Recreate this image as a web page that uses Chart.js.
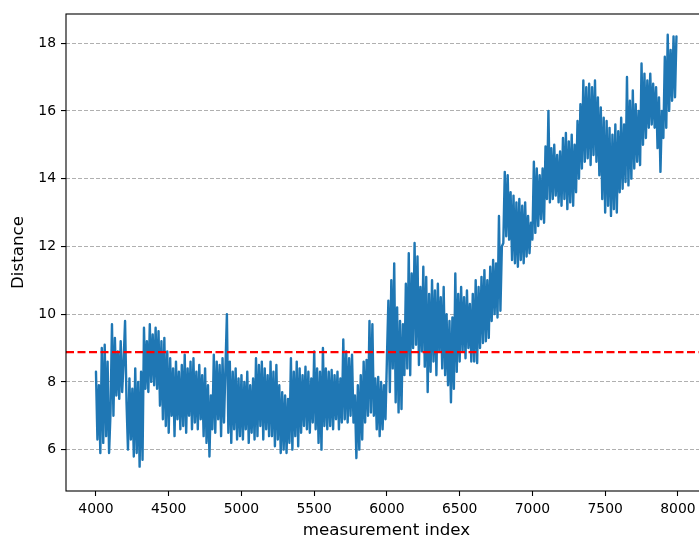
<!DOCTYPE html>
<html lang="en">
<head>
    <meta charset="UTF-8">
    <title>Distance per measurement</title>
    <script src="https://cdn.jsdelivr.net/npm/chart.js"></script>
    <style>
        html, body { margin: 0; padding: 0; background: #fff; overflow: hidden; }
        #wrap { width: 708px; height: 539px; }
    </style>
</head>
<body>
    <div id="wrap">
        <canvas id="distance-chart" width="708" height="539"></canvas>
    </div>

    <script>
        // measurement index of the first sample and spacing between samples
        const startIndex = 4000;
        const indexStep = 10;

        // distance readings, one every indexStep measurements (one row = 100 measurements)
        const distances = [
            8.3, 6.3, 7.9, 5.9, 9.0, 6.2, 9.1, 6.4, 8.6, 5.9,
            7.1, 9.7, 7.0, 9.3, 7.6, 8.9, 7.5, 9.2, 7.7, 8.6,
            9.8, 7.4, 6.0, 8.1, 6.3, 7.8, 5.8, 8.4, 5.9, 8.0,
            5.5, 8.3, 5.7, 9.6, 7.8, 9.2, 7.7, 9.7, 8.0, 9.4,
            7.9, 9.6, 7.8, 9.5, 7.3, 9.2, 6.9, 9.3, 6.7, 8.9,
            6.5, 8.7, 7.0, 8.4, 6.4, 8.6, 6.9, 8.3, 6.6, 8.5,
            6.7, 8.8, 6.5, 8.4, 7.0, 8.6, 6.6, 8.7, 6.8, 8.3,
            6.6, 8.5, 6.9, 8.2, 6.4, 8.4, 6.2, 7.9, 5.8, 7.6,
            6.6, 8.8, 6.5, 8.6, 6.9, 8.5, 6.4, 8.7, 6.8, 8.4,
            10.0, 6.5, 8.6, 6.2, 8.3, 6.6, 8.4, 6.3, 8.1, 6.4,
            8.2, 6.3, 8.0, 6.6, 8.3, 6.2, 7.9, 6.5, 8.1, 6.3,
            8.7, 6.4, 8.5, 6.7, 8.6, 6.3, 8.4, 6.6, 8.2, 6.4,
            8.6, 6.4, 8.3, 6.1, 8.5, 6.3, 7.9, 5.9, 7.7, 6.0,
            7.6, 5.9, 7.5, 6.2, 8.7, 6.0, 8.3, 6.4, 8.6, 6.1,
            8.4, 6.5, 8.2, 6.7, 8.45, 6.6, 8.3, 6.5, 8.1, 6.8,
            8.9, 6.6, 8.4, 6.2, 8.3, 6.0, 9.0, 6.7, 8.4, 6.6,
            8.3, 6.7, 8.35, 6.6, 8.2, 6.9, 8.3, 6.6, 8.1, 6.8,
            9.25, 6.9, 8.9, 6.8, 8.7, 7.0, 8.8, 6.8, 7.6, 5.75,
            7.9, 6.0, 8.2, 6.3, 8.6, 6.8, 8.65, 7.0, 9.8, 7.1,
            9.7, 7.0, 8.1, 6.6, 8.15, 6.4, 8.0, 6.6, 7.9, 6.9,
            8.7, 10.4, 7.7, 11.0, 8.4, 11.5, 7.4, 10.2, 7.1, 9.8,
            7.2, 9.7, 8.2, 10.9, 8.4, 11.8, 8.2, 11.2, 9.0, 12.1,
            9.1, 11.7, 8.5, 10.8, 8.9, 11.4, 8.45, 11.1, 7.7, 10.6,
            8.3, 11.0, 8.6, 10.7, 8.2, 10.9, 8.9, 10.5, 8.4, 10.8,
            8.2, 10.0, 7.9, 9.8, 7.4, 9.9, 7.8, 11.2, 8.3, 10.6,
            8.6, 10.8, 8.9, 10.5, 8.7, 10.7, 9.0, 10.3, 8.6, 10.6,
            8.6, 11.0, 8.56, 10.8, 9.0, 11.1, 9.15, 11.3, 9.2, 11.0,
            9.3, 11.4, 9.8, 11.6, 10.0, 11.5, 9.9, 12.9, 10.1, 12.0,
            12.1, 14.2, 12.3, 14.1, 12.2, 13.6, 11.6, 13.5, 11.5, 13.3,
            11.4, 13.4, 11.6, 13.2, 11.5, 13.3, 11.7, 12.9, 11.8, 12.7,
            12.2, 14.5, 12.4, 14.3, 12.6, 14.1, 12.8, 14.3, 12.7, 14.95,
            13.4, 16.0, 13.3, 14.9, 13.4, 15.0, 13.5, 14.7, 13.3, 14.8,
            13.2, 15.2, 13.4, 15.35, 13.1, 15.1, 13.3, 15.3, 13.2, 15.0,
            13.6, 15.7, 14.0, 16.2, 14.3, 16.9, 14.5, 16.7, 14.6, 16.8,
            14.4, 16.7, 14.7, 16.9, 14.5, 16.4, 14.1, 16.1, 13.4, 15.8,
            13.0, 15.7, 13.2, 15.5, 12.9, 15.3, 13.1, 15.6, 13.0, 15.4,
            13.6, 15.8, 13.7, 15.6, 13.9, 17.0, 13.8, 16.3, 14.0, 16.6,
            14.3, 16.2, 14.5, 16.0, 14.4, 17.4, 15.0, 17.1, 15.2, 16.9,
            15.5, 17.1, 15.6, 16.8, 15.5, 16.7, 14.9, 16.4, 14.2, 16.0,
            15.2, 17.6, 15.5, 18.25, 16.0, 17.8, 16.3, 18.2, 16.4, 18.2
        ];

        // reference level drawn as a dashed red line
        const threshold = 8.88;

        const xTicks = [4000, 4500, 5000, 5500, 6000, 6500, 7000, 7500, 8000];
        const yTicks = [6, 8, 10, 12, 14, 16, 18];
        const xRange = [3794, 8200];
        const yRange = [4.78, 18.86];

        const points = distances.map((d, i) => ({ x: startIndex + i * indexStep, y: d }));

        const tickFont = { family: 'DejaVu Sans', size: 13.9 };
        const titleFont = { family: 'DejaVu Sans', size: 16.7, lineHeight: 1 };

        // black box around the plot area
        const frame = {
            id: 'frame',
            afterDatasetsDraw(chart) {
                const a = chart.chartArea;
                const ctx = chart.ctx;
                ctx.save();
                ctx.strokeStyle = '#000';
                ctx.lineWidth = 1.1;
                ctx.strokeRect(a.left, a.top, a.right - a.left, a.bottom - a.top);
                ctx.restore();
            }
        };

        new Chart(document.getElementById('distance-chart'), {
            type: 'line',
            data: {
                datasets: [{
                    data: [{ x: xRange[0], y: threshold }, { x: xRange[1], y: threshold }],
                    borderColor: '#ff0000',
                    borderWidth: 2.1,
                    borderDash: [8, 3.5],
                    pointRadius: 0
                }, {
                    data: points,
                    borderColor: '#1f77b4',
                    borderWidth: 2.4,
                    borderJoinStyle: 'round',
                    borderCapStyle: 'round',
                    pointRadius: 0,
                    tension: 0
                }]
            },
            options: {
                responsive: false,
                animation: false,
                events: [],
                layout: { padding: { top: 14, right: 1, left: 0, bottom: 0 } },
                plugins: {
                    legend: { display: false },
                    tooltip: { enabled: false }
                },
                scales: {
                    x: {
                        type: 'linear',
                        min: xRange[0],
                        max: xRange[1],
                        afterFit: s => { s.height = 48; },
                        afterBuildTicks: s => { s.ticks = xTicks.map(v => ({ value: v })); },
                        grid: {
                            drawOnChartArea: false,
                            tickLength: 5,
                            tickColor: '#000',
                            tickWidth: 1.1
                        },
                        border: { display: false },
                        ticks: {
                            color: '#000',
                            font: tickFont,
                            padding: 5,
                            maxRotation: 0,
                            autoSkip: false,
                            callback: v => String(v)
                        },
                        title: {
                            display: true,
                            text: 'measurement index',
                            color: '#000',
                            font: titleFont,
                            padding: { top: 0, bottom: 0 }
                        }
                    },
                    y: {
                        type: 'linear',
                        min: yRange[0],
                        max: yRange[1],
                        afterFit: s => { s.width = 66; },
                        afterBuildTicks: s => { s.ticks = yTicks.map(v => ({ value: v })); },
                        grid: {
                            color: '#b0b0b0',
                            lineWidth: 1.1,
                            tickLength: 5,
                            tickColor: '#000',
                            tickWidth: 1.1
                        },
                        border: { display: false, dash: [4, 2] },
                        ticks: {
                            color: '#000',
                            font: tickFont,
                            padding: 5,
                            autoSkip: false,
                            callback: v => String(v)
                        },
                        title: {
                            display: true,
                            text: 'Distance',
                            color: '#000',
                            font: titleFont,
                            padding: { top: 10, bottom: 0 }
                        }
                    }
                }
            },
            plugins: [frame]
        });
    </script>
</body>
</html>
